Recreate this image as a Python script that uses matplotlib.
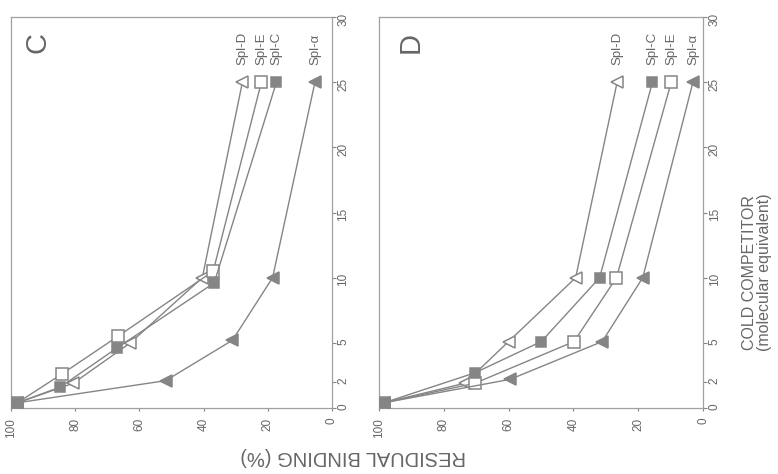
import matplotlib
matplotlib.use("Agg")
import matplotlib.pyplot as plt

plt.rcParams['font.family'] = ['Liberation Sans', 'DejaVu Sans']

# competitor (molecular equivalent) and residual binding (%)
series_names = ['Spl-D', 'Spl-E', 'Spl-C', 'Spl-α']

# panel C
c_dose_d = [0.4, 1.9, 5.0, 10.0, 25]
c_bind_d = [98, 80.6, 62.8, 40.4, 27.9]
c_dose_e = [0.4, 2.6, 5.5, 10.5, 25]
c_bind_e = [98, 84.2, 66.7, 37.0, 22.0]
c_dose_c = [0.4, 1.6, 4.6, 9.6, 25]
c_bind_c = [98, 84.7, 67.0, 36.7, 17.3]
c_dose_a = [0.4, 2.1, 5.2, 10.0, 25]
c_bind_a = [98, 51.8, 31.0, 18.5, 5.3]

# panel D
d_dose_d = [0.4, 1.9, 5.1, 10.0, 25]
d_bind_d = [98.5, 73.5, 60.0, 39.3, 26.5]
d_dose_e = [0.4, 1.9, 5.1, 10.0, 25]
d_bind_e = [98.5, 70.4, 39.8, 26.7, 9.8]
d_dose_c = [0.4, 2.7, 5.1, 10.0, 25]
d_bind_c = [98.5, 70.4, 49.9, 31.9, 15.6]
d_dose_a = [0.4, 2.2, 5.1, 10.0, 25]
d_bind_a = [98.5, 59.5, 31.1, 18.6, 3.1]

dose_ticks = [0, 2, 5, 10, 15, 20, 25, 30]
bind_ticks = [100, 80, 60, 40, 20, 0]

gray = '#858585'
text_gray = '#666666'

styles = {
    'Spl-D': dict(marker='<', mfc='white', ms=9),
    'Spl-E': dict(marker='s', mfc='white', ms=8),
    'Spl-C': dict(marker='s', mfc=gray, ms=7.5),
    'Spl-α': dict(marker='<', mfc=gray, ms=9),
}

fig = plt.figure(figsize=(7.78, 4.74), dpi=100)
ax_c = fig.add_axes([0.0141, 0.1392, 0.4126, 0.8249])
ax_d = fig.add_axes([0.4871, 0.1392, 0.4165, 0.8249])

panels = [
    (ax_c, 'C', 0.084,
     {'Spl-D': (c_dose_d, c_bind_d), 'Spl-E': (c_dose_e, c_bind_e),
      'Spl-C': (c_dose_c, c_bind_c), 'Spl-α': (c_dose_a, c_bind_a)}),
    (ax_d, 'D', 0.099,
     {'Spl-D': (d_dose_d, d_bind_d), 'Spl-E': (d_dose_e, d_bind_e),
      'Spl-C': (d_dose_c, d_bind_c), 'Spl-α': (d_dose_a, d_bind_a)}),
]

# the original figure is printed rotated: binding runs along the bottom, competitor up the right
for ax, letter, lx, data in panels:
    for name in ['Spl-D', 'Spl-E', 'Spl-α', 'Spl-C']:
        dose, bind = data[name]
        st = styles[name]
        ax.plot(bind, dose, color=gray, lw=1.0, marker=st['marker'], ms=st['ms'],
                mfc=st['mfc'], mec=gray, mew=1.1, zorder=3)
        ax.text(bind[-1], 26.3, name, rotation=90, ha='center', va='bottom',
                fontsize=9.5, color=text_gray)
    ax.set_xlim(100, 0)
    ax.set_ylim(0, 30)
    ax.set_xticks(bind_ticks)
    ax.set_xticklabels([str(t) for t in bind_ticks], rotation=90)
    ax.set_yticks(dose_ticks)
    ax.set_yticklabels([str(t) for t in dose_ticks], rotation=90)
    ax.yaxis.tick_right()
    ax.tick_params(axis='y', length=3, width=0.8, pad=1, colors=gray,
                   labelcolor=text_gray, labelsize=8.5)
    ax.tick_params(axis='x', length=2, width=0.8, pad=5, colors=gray,
                   labelcolor=text_gray, labelsize=8.5)
    for sp in ax.spines.values():
        sp.set_color('#a0a0a0')
        sp.set_linewidth(0.9)
    ax.text(lx, 0.935, letter, transform=ax.transAxes, rotation=90,
            ha='center', va='center', fontsize=21, color=text_gray)

fig.text(0.454, 0.036, 'RESIDUAL BINDING (%)', rotation=180, ha='center',
         va='center', fontsize=14.5, color=text_gray)
fig.text(0.973, 0.426, 'COLD COMPETITOR\n(molecular equivalent)', rotation=90,
         ha='center', va='center', multialignment='center', fontsize=11.5,
         color=text_gray, linespacing=1.0)

fig.savefig('out.png', dpi=100)
